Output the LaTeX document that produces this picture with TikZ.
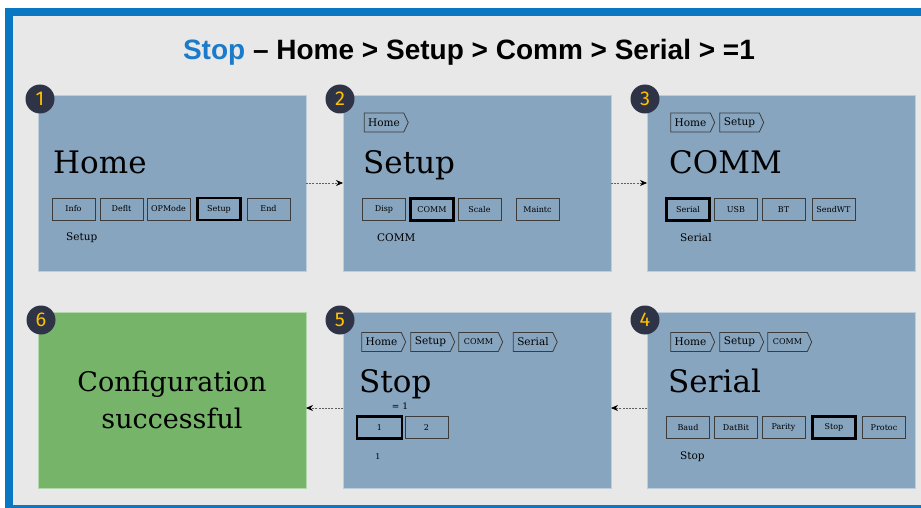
\documentclass[tikz,border=0pt]{standalone}
\usepackage{fontspec}
\setmainfont{DejaVu Serif}
\newfontfamily\titlefont{Liberation Sans}
\newfontfamily\numfont{Fira Sans}
\usetikzlibrary{shapes.symbols,calc,arrows.meta}
\definecolor{frameblue}{HTML}{0A77C3}
\definecolor{bgray}{HTML}{E8E8E8}
\definecolor{panelc}{HTML}{87A5BF}
\definecolor{greenc}{HTML}{76B46A}
\definecolor{navy}{HTML}{2E3346}
\definecolor{gold}{HTML}{FFC000}
\definecolor{stopblue}{HTML}{1B7AC9}
\definecolor{btnline}{HTML}{3C3C3C}
\tikzset{
  panel/.style={fill=panelc, draw=white!45!panelc, line width=0.8pt, minimum width=268pt, minimum height=176pt, anchor=north west, inner sep=0pt, outer sep=0pt},
  okpanel/.style={panel, fill=greenc, draw=white!45!greenc},
  numcirc/.style={circle, fill=navy, minimum size=29pt, inner sep=0pt, text=gold, font=\numfont\fontsize{20}{20}\selectfont},
  btn/.style={draw=btnline, line width=0.9pt, minimum width=43pt, minimum height=22pt, inner sep=0pt, font=\fontsize{8}{8}\selectfont},
  selbtn/.style={btn, draw=black, line width=2.6pt},
  crumb/.style={shape=signal, signal to=east, signal pointer angle=130, draw=btnline, line width=0.8pt, minimum width=44pt, minimum height=19pt, inner sep=1pt, font=\fontsize{10.5}{10.5}\selectfont},
  heading/.style={anchor=base west, inner sep=0pt, font=\fontsize{31}{31}\selectfont},
  sublabel/.style={anchor=west, inner sep=0pt, font=\fontsize{10.5}{10.5}\selectfont},
  flow/.style={draw=gray!75!black, line width=0.7pt, dash pattern=on 2pt off 1.2pt, -{Stealth[length=7pt,width=6pt,black]}}
}
\begin{document}
\begin{tikzpicture}[x=1pt,y=-1pt]
\useasboundingbox (0,0) rectangle (921,508);
\fill[white] (0,0) rectangle (921,508);
\fill[frameblue] (5,8) rectangle (921,508);
\fill[bgray] (13,16) rectangle (921,505);
% title
\node[inner sep=0pt, font=\titlefont\bfseries\fontsize{28}{28}\selectfont] (title) at (469,52) {\textcolor{stopblue}{Stop} – Home > Setup > Comm > Serial > =1};
% panels
\node[panel] (b1) at (38,95) {};
\node[panel] (b2) at (343,95) {};
\node[panel] (b3) at (647,95) {};
\node[panel] (b4) at (647,312) {};
\node[panel] (b5) at (343,312) {};
\node[okpanel] (b6) at (38,312) {};
% arrows
\draw[flow] (b1.east) -- (b2.west);
\draw[flow] (b2.east) -- (b3.west);
\draw[flow] ($(b4.west)+(0,8)$) -- ($(b5.east)+(0,8)$);
\draw[flow] ($(b5.west)+(0,8)$) -- ($(b6.east)+(0,8)$);
% number circles
\node[numcirc] (n1) at (40,99) {1};
\node[numcirc] (n2) at (340,99) {2};
\node[numcirc] (n3) at (645,99) {3};
\node[numcirc] (n4) at (645,320) {4};
\node[numcirc] (n5) at (340,320) {5};
\node[numcirc] (n6) at (41,320) {6};
% panel 1
\node[heading] (h1) at (53,173) {Home};
\node[btn] (p1a) at (73.5,209) {Info};
\node[btn] (p1b) at (121.5,209) {Deflt};
\node[btn] (p1c) at (168.5,209) {OPMode};
\node[selbtn] (p1d) at (219,209) {Setup};
\node[btn] (p1e) at (268.5,209) {End};
\node[sublabel] (s1) at (66,238) {Setup};
% panel 2
\node[crumb] (c2a) at (384,122.5) {Home};
\node[heading] (h2) at (363,173) {Setup};
\node[btn] (p2a) at (384,209.5) {Disp};
\node[selbtn] (p2b) at (432,209.5) {COMM};
\node[btn] (p2c) at (479.5,209.5) {Scale};
\node[btn] (p2d) at (537.5,209.5) {Maintc};
\node[sublabel] (s2) at (377,238) {COMM};
% panel 3
\node[crumb] (c3a) at (690.5,122.5) {Home};
\node[crumb] (c3b) at (739.5,122.5) {Setup};
\node[heading] (h3) at (669,173) {COMM};
\node[selbtn] (p3a) at (688,209.5) {Serial};
\node[btn] (p3b) at (736,209.5) {USB};
\node[btn] (p3c) at (783.5,209.5) {BT};
\node[btn] (p3d) at (833.5,209.5) {SendWT};
\node[sublabel] (s3) at (680,238) {Serial};
% panel 4
\node[crumb] (c4a) at (690.5,342) {Home};
\node[crumb] (c4b) at (739.5,342) {Setup};
\node[crumb, font=\fontsize{8}{8}\selectfont] (c4c) at (787.5,342) {COMM};
\node[heading] (h4) at (668,392) {Serial};
\node[btn] (p4a) at (688,427.5) {Baud};
\node[btn] (p4b) at (736,427.5) {DatBit};
\node[btn] (p4c) at (783.5,427.5) {Parity};
\node[selbtn] (p4d) at (834,427.5) {Stop};
\node[btn] (p4e) at (884,427.5) {Protoc};
\node[sublabel] (s4) at (680,457) {Stop};
% panel 5
\node[crumb] (c5a) at (381.5,342) {Home};
\node[crumb] (c5b) at (430.5,342) {Setup};
\node[crumb, font=\fontsize{8}{8}\selectfont] (c5c) at (478.5,342) {COMM};
\node[crumb] (c5d) at (533,342) {Serial};
\node[heading] (h5) at (359,392) {Stop};
\node[inner sep=0pt, font=\fontsize{9}{9}\selectfont] (eq5) at (400,406) {= 1};
\node[selbtn, minimum width=45pt] (p5a) at (379.5,427.5) {1};
\node[btn] (p5b) at (426.5,427.5) {2};
\node[inner sep=0pt, font=\fontsize{8}{8}\selectfont] (s5) at (378,457) {1};
% panel 6
\node[align=center, inner sep=0pt, font=\fontsize{27}{37}\selectfont] (ok) at (b6.center) {Configuration\\successful};
\end{tikzpicture}
\end{document}
